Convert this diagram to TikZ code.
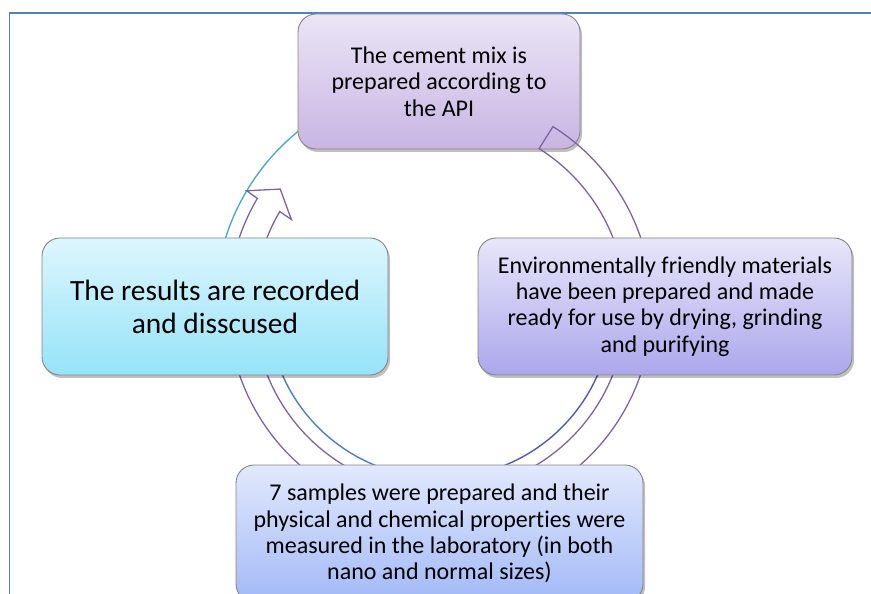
\documentclass[tikz,border=0pt]{standalone}
\usepackage{fontspec}
\setmainfont{Carlito}[Ligatures=NoCommon]
\usetikzlibrary{shadows,calc}
\definecolor{framec}{HTML}{4F81BD}
\definecolor{boxedge}{HTML}{858585}
\definecolor{arrowc}{HTML}{7E62A8}
\definecolor{tealc}{HTML}{4BACC6}
\definecolor{bluel}{HTML}{4A7EC6}
\definecolor{bluer}{HTML}{5058BC}
\definecolor{topT}{HTML}{EBE5F6}
\definecolor{topB}{HTML}{C8B5E3}
\definecolor{leftT}{HTML}{DDF6FD}
\definecolor{leftB}{HTML}{96E3F8}
\definecolor{rightT}{HTML}{E7E6F9}
\definecolor{rightB}{HTML}{ACA7EC}
\definecolor{botT}{HTML}{E2E9FD}
\definecolor{botB}{HTML}{A2B9F7}
\begin{document}
\begin{tikzpicture}[x=1pt,y=1pt,
  box/.style={draw=boxedge, line width=0.9pt, rounded corners=18pt, align=center, inner sep=0pt,
    drop shadow={shadow xshift=2pt,shadow yshift=-3pt,opacity=0.25,fill=black}},
  cyc/.style={draw=arrowc, line width=1.3pt},
  midtext/.style={font=\fontsize{24}{26.3}\selectfont},
  bigtext/.style={font=\fontsize{29.4}{33}\selectfont}]
\useasboundingbox (0,0) rectangle (871,594);
\clip (0,0) rectangle (871,594);
\coordinate (c) at (440,288);
% frame
\coordinate (fa) at (9.5,-5);
\coordinate (fb) at (9.5,581);
\coordinate (fc) at (880,581);
\draw[framec, line width=1.2pt] (fa) -- (fb) -- (fc);
% circle lines
\draw[tealc, line width=1.4pt] ($(c)+(165:225)$) arc[start angle=165, end angle=125, radius=225];
\draw[bluel, line width=1.4pt] ($(c)+(200:172)$) arc[start angle=200, end angle=252, radius=172];
\draw[bluer, line width=1.4pt] ($(c)+(288:172)$) arc[start angle=288, end angle=340, radius=172];
% lower arrows
\draw[cyc] ($(c)+(195:212)$) arc[start angle=195, end angle=245, radius=212]
  -- ($(c)+(245:186)$) arc[start angle=245, end angle=195, radius=186] -- cycle;
\draw[cyc] ($(c)+(-65:212)$) arc[start angle=-65, end angle=-15, radius=212]
  -- ($(c)+(-15:186)$) arc[start angle=-15, end angle=-65, radius=186] -- cycle;
% left arrow (results -> mix)
\draw[cyc, line join=miter] ($(c)+(170:186)$) arc[start angle=170, end angle=149.5, radius=186]
  -- ($(c)+(149.8:172)$) -- ($(c)+(143.8:198)$) -- ($(c)+(149.2:225)$)
  -- ($(c)+(149.5:212)$) arc[start angle=149.5, end angle=170, radius=212] -- cycle;
% top box
\node[box, top color=topT, bottom color=topB, minimum width=282pt, minimum height=135pt, midtext]
  (mix) at (439,512.5) {The cement mix is\\prepared according to\\the API};
% right arrow (mix -> materials)
\draw[cyc] ($(c)+(57.8:212)$) arc[start angle=57.8, end angle=10, radius=212]
  -- ($(c)+(10:186)$) arc[start angle=10, end angle=57.8, radius=186] -- cycle;
% left box
\node[box, top color=leftT, bottom color=leftB, minimum width=346pt, minimum height=137pt, bigtext]
  (res) at (215,287.5) {The results are recorded\\and disscused};
% right box
\node[box, top color=rightT, bottom color=rightB, minimum width=374pt, minimum height=137pt, midtext]
  (mat) at (665,287.5) {Environmentally friendly materials\\have been prepared and made\\ready for use by drying, grinding\\and purifying};
% bottom box
\node[box, top color=botT, bottom color=botB, minimum width=407pt, minimum height=137pt, midtext]
  (samp) at (439.5,60.5) {7 samples were prepared and their\\physical and chemical properties were\\measured in the laboratory (in both\\nano and normal sizes)};
\end{tikzpicture}
\end{document}
